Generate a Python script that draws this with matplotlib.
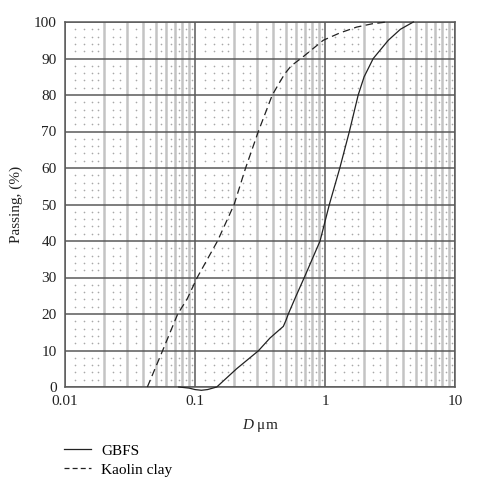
import numpy as np
import matplotlib.pyplot as plt
from matplotlib.lines import Line2D
from matplotlib.ticker import FixedLocator, NullFormatter

plt.rcParams["font.family"] = ["Liberation Serif", "DejaVu Serif"]
plt.rcParams["mathtext.fontset"] = "custom"
plt.rcParams["mathtext.it"] = "Liberation Serif:italic"
plt.rcParams["mathtext.rm"] = "Liberation Serif"

# particle size distributions
gbfs_d = [0.075, 0.09, 0.10, 0.112, 0.125, 0.147, 0.209, 0.307, 0.377, 0.44,
          0.478, 0.50, 0.522, 0.60, 0.693, 0.916, 1.08, 1.30, 1.54, 1.80,
          2.0, 2.35, 3.07, 3.8, 4.78]
gbfs_pass = [0, -0.3, -0.7, -0.9, -0.7, 0, 5, 9.9, 13.4, 15.5,
             16.6, 18.2, 20, 25, 30, 40, 50, 60, 70, 80,
             85, 90, 95, 98, 100]

kaolin_d = [0.043, 0.0564, 0.0736, 0.087, 0.104, 0.149, 0.20, 0.245, 0.307,
            0.393, 0.45, 0.49, 0.55, 0.68, 0.97, 1.3, 1.75, 2.3, 2.98]
kaolin_pass = [0, 10, 20, 24.1, 30, 40, 50, 60, 70,
               80, 83.6, 85.8, 88, 90.5, 95, 97, 98.6, 99.5, 100]

x_ticks = [0.01, 0.1, 1, 10]
x_ticklabels = ["0.01", "0.1", "1", "10"]
y_ticks = list(range(0, 101, 10))

fig = plt.figure(figsize=(4.79, 5.0), dpi=100)
ax = fig.add_axes([65 / 479, 1 - 387 / 500, 390 / 479, 365 / 500])

ax.set_xscale("log")
ax.set_xlim(0.01, 10)
ax.set_ylim(0, 100)

# grid: dark decades / tens, light gray minor decades, dotted fill
minors = [m * 10.0 ** e for e in range(-2, 1) for m in range(2, 10)]
ax.xaxis.set_minor_locator(FixedLocator(minors))
ax.xaxis.set_minor_formatter(NullFormatter())
ax.grid(which="major", axis="both", color="#5a5a5a", lw=1.1, zorder=1)
ax.grid(which="minor", axis="x", color="#c4c4c4", lw=1.8, zorder=0.9)

mults = [1.2, 1.4, 1.6, 1.8, 2.33, 2.67, 3.5, 4.5, 5.5, 6.5, 7.5, 8.5, 9.5]
dot_x = [m * 10.0 ** e for e in range(-2, 1) for m in mults]
dot_y = [t + k for t in range(0, 100, 10) for k in (2, 4, 6, 8)]
gx, gy = np.meshgrid(dot_x, dot_y)
ax.scatter(gx.ravel(), gy.ravel(), s=1.4, color="#a8a8a8", lw=0, zorder=0.8)

ax.plot(gbfs_d, gbfs_pass, color="#222222", lw=0.9, clip_on=False, zorder=3,
        label="GBFS")
ax.plot(kaolin_d, kaolin_pass, color="#222222", lw=0.9, ls=(0, (6, 3.5)),
        clip_on=False, zorder=3, label="Kaolin clay")

ax.set_xticks(x_ticks)
ax.set_xticklabels(x_ticklabels)
ax.set_yticks(y_ticks)
ax.tick_params(which="both", length=0, labelsize=11, colors="#222222")
ax.tick_params(axis="x", pad=6)
ax.tick_params(axis="y", pad=6)

for s in ax.spines.values():
    s.set_color("#5a5a5a")
    s.set_linewidth(1.1)

ax.set_xlabel(r"$\mathit{D}$ μm", fontsize=11, labelpad=6, color="#222222")
ax.set_ylabel("Passing, (%)", fontsize=11, labelpad=8, color="#222222")

handles = [Line2D([], [], color="#222222", lw=0.9),
           Line2D([], [], color="#222222", lw=0.9, ls=(0, (4, 2.5)))]
fig.legend(handles, ["GBFS", "Kaolin clay"], loc="upper left",
           bbox_to_anchor=(64 / 479, 1 - 444 / 500), frameon=False,
           fontsize=11, handlelength=1.75, handletextpad=0.7,
           borderpad=0, borderaxespad=0, labelspacing=0.35)

fig.savefig("out.png", dpi=100, facecolor="white")
